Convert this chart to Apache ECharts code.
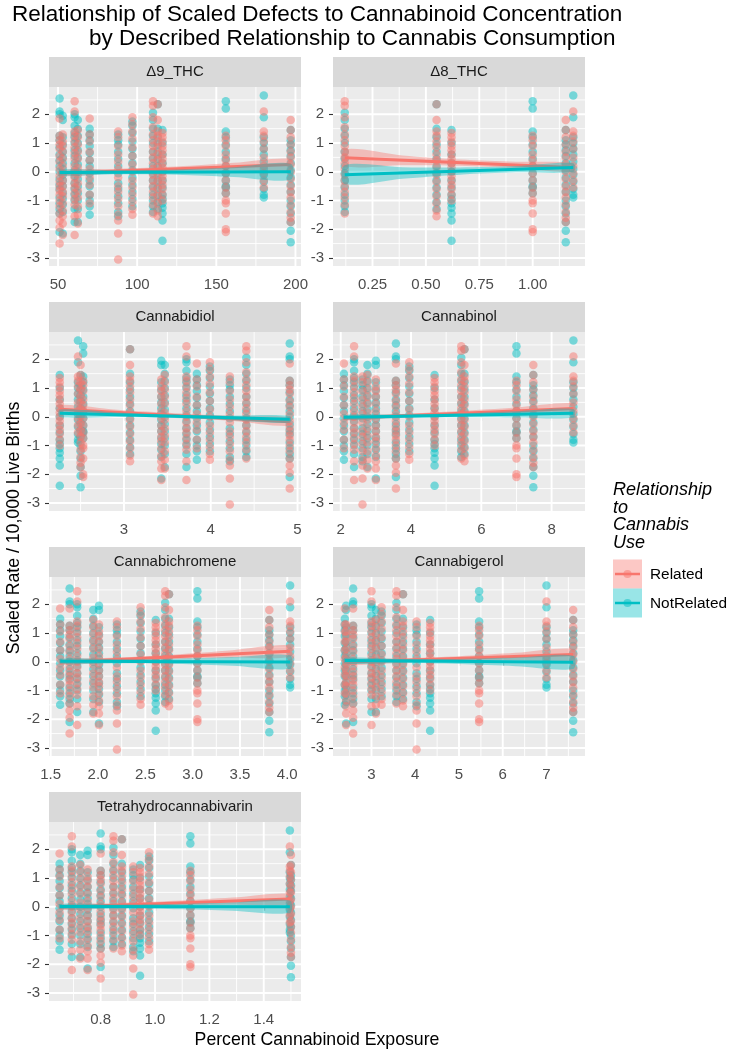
<!DOCTYPE html>
<html>
<head>
<meta charset="utf-8">
<script src="https://cdn.jsdelivr.net/npm/echarts@6/dist/echarts.min.js"></script>
<style>
  html, body { margin: 0; padding: 0; background: #fff; }
  #chart { width: 731px; height: 1053px; }
</style>
</head>
<body>
<div id="chart"></div>
<script>
// facet panels, in reading order
const panels = ['Δ9_THC', 'Δ8_THC', 'Cannabidiol', 'Cannabinol', 'Cannabichromene', 'Cannabigerol', 'Tetrahydrocannabivarin'];

// each column of points is one set of scaled defect rates, the same set in every panel
// (group order: a1, a2, b, m, c, d, e, f, g, h, i, j, k)
const relatedY = [
  [1.85, 1.25, 1.1, 0.95, 0.8, 0.55, 0.35, 0.1, -0.15, -0.35, -0.5, -0.65, -0.8, -1.0, -1.2, -1.45, -1.7, -1.95, -2.5],
  [1.3, 1.05, 0.9, 0.7, 0.45, 0.2, -0.05, -0.3, -0.5, -0.7, -0.85, -1.1, -1.35, -1.55, -1.8, -2.2],
  [2.45, 2.1, 1.4, 1.25, 1.05, 0.85, 0.65, 0.45, 0.2, 0.0, -0.2, -0.4, -0.55, -0.75, -0.95, -1.15, -1.55, -2.2],
  [1.45, 1.2, 0.95, 0.7, 0.45, 0.15, -0.1, -0.4, -0.65, -0.9, -1.2, -1.5, -1.8],
  [1.85, 1.3, 1.05, 0.7, 0.4, 0.1, -0.2, -0.45, -0.8, -1.1],
  [1.4, 1.2, 0.9, 0.6, 0.35, 0.1, -0.2, -0.5, -0.7, -0.95, -1.2, -1.5, -1.7, -2.15, -3.05],
  [1.9, 1.65, 1.4, 1.15, 0.85, 0.55, 0.25, 0.0, -0.3, -0.55, -0.8, -1.05, -1.3, -1.5],
  [2.45, 2.3, 1.9, 1.55, 1.3, 1.1, 0.9, 0.7, 0.5, 0.3, 0.1, -0.1, -0.3, -0.5, -0.7, -0.9, -1.15, -1.45],
  [2.35, 1.8, 1.4, 1.25, 1.05, 0.85, 0.6, 0.4, 0.15, -0.1, -0.35, -0.6, -0.85, -1.1, -1.35, -1.55],
  [1.35, 1.2, 1.05, 0.9, 0.75, 0.6, 0.45, 0.3, 0.15, 0.0, -0.15, -0.3, -0.45, -0.6, -0.8, -1.0],
  [1.25, 1.1, 0.9, 0.6, 0.4, 0.2, -0.05, -0.3, -0.55, -0.75, -1.0, -1.1, -1.45, -2.0, -2.1],
  [2.1, 1.4, 1.25, 1.05, 0.8, 0.5, 0.2, -0.05, -0.3, -0.55],
  [1.8, 1.45, 1.2, 0.95, 0.7, 0.5, 0.25, 0.0, -0.25, -0.5, -0.7, -0.9, -1.15, -1.4, -1.6, -1.75]
];
const notRelatedY = [
  [2.55, 2.1, 2.0, 1.25, 1.1, 0.85, 0.6, 0.4, 0.2, 0.0, -0.25, -0.45, -0.6, -0.9, -1.1, -1.3, -1.45, -2.1],
  [1.95, 1.8, 1.2, 0.95, 0.7, 0.5, 0.3, 0.1, -0.1, -0.3, -0.5, -0.75, -0.95, -1.15, -1.4, -2.15],
  [2.0, 1.9, 1.6, 1.35, 1.2, 1.0, 0.75, 0.55, 0.3, 0.05, -0.15, -0.4, -0.6, -0.8, -1.0, -1.3, -1.75],
  [1.8, 1.5, 1.25, 1.0, 0.75, 0.5, 0.25, 0.0, -0.25, -0.5, -0.75, -1.0, -1.3, -1.75],
  [1.5, 1.3, 1.1, 0.9, 0.65, 0.4, 0.2, -0.05, -0.3, -0.5, -0.8, -1.0, -1.2, -1.5],
  [1.3, 1.1, 0.95, 0.7, 0.45, 0.2, -0.05, -0.4, -0.6, -0.85, -1.1, -1.4, -1.55],
  [1.75, 1.6, 1.35, 1.05, 0.8, 0.55, 0.3, 0.05, -0.2, -0.45, -0.7, -0.95, -1.2],
  [2.05, 1.8, 1.5, 1.25, 1.0, 0.7, 0.45, 0.2, -0.05, -0.3, -0.55, -0.8, -1.0, -1.2, -1.4],
  [2.35, 1.5, 1.2, 0.95, 0.7, 0.45, 0.2, -0.05, -0.3, -0.55, -0.8, -1.05, -1.3],
  [1.45, 1.0, 0.6, 0.3, 0.0, -0.3, -0.55, -0.8, -0.95, -1.1, -1.25, -1.45, -1.7, -2.4],
  [2.45, 2.2, 1.4, 1.2, 0.95, 0.7, 0.45, 0.2, -0.05, -0.3, -0.5, -0.55, -0.75],
  [2.65, 1.9, 1.2, 1.0, 0.8, 0.6, 0.35, 0.1, -0.1, -0.35, -0.6, -0.8, -0.9],
  [1.45, 1.1, 0.95, 0.75, 0.55, 0.3, 0.05, -0.2, -0.45, -0.7, -1.0, -1.2, -1.45, -1.75, -2.05, -2.45]
];

// concentration of each column in each panel (null = no value)
const groupX = [
  [51, 53, 60.5, 62.5, 70, 88, 97, 110, 113, 116, 156, 180, 197],
  [null, null, null, null, null, null, null, 0.12, 0.55, 0.62, 1.0, 1.19, 1.155],
  [4.91, 3.43, 3.72, 3.47, 3.84, 4.22, 3.99, 4.41, 3.07, 2.26, 2.53, 2.47, 2.5],
  [3.57, 3.0, 2.38, 2.76, 2.09, 2.62, 3.95, 5.43, 5.52, 4.67, 7.0, 8.62, 7.48],
  [1.7, 2.01, 1.78, 1.95, 1.6, 2.2, 2.45, 2.71, 2.75, 2.61, 3.05, 4.03, 3.81],
  [2.58, 2.42, 3.0, 3.1, 2.39, 4.03, 3.23, 3.57, 3.72, 4.34, 5.46, 7.0, 7.61],
  [0.8, 0.752, 0.694, 0.725, 0.649, 0.92, 0.978, 0.847, 0.878, 0.945, 1.13, 1.496, 1.5]
];

// linear fits (value at first and last fitX) and their confidence bands
const fitX = [
  [51, 88, 125, 161, 197],
  [0.12, 0.39, 0.66, 0.92, 1.19],
  [2.26, 2.92, 3.59, 4.25, 4.91],
  [2.09, 3.72, 5.36, 6.99, 8.62],
  [1.6, 2.21, 2.82, 3.42, 4.03],
  [2.39, 3.7, 5.0, 6.3, 7.61],
  [0.649, 0.861, 1.073, 1.284, 1.496]
];
const relatedFit = [[-0.05, 0.25], [0.49, 0.15], [0.26, -0.17], [-0.05, 0.29], [-0.02, 0.37], [-0.02, 0.25], [-0.02, 0.27]];
const notRelatedFit = [[-0.03, 0.0], [-0.1, 0.15], [0.12, -0.09], [-0.02, 0.12], [0.02, -0.01], [0.04, -0.02], [0.01, 0.0]];
const relatedLower = [
  [-0.15, -0.04, 0.02, 0.04, 0.05],
  [0.2, 0.23, 0.21, 0.13, 0.0],
  [0.11, 0.06, -0.03, -0.15, -0.32],
  [-0.13, -0.025, 0.04, 0.085, 0.11],
  [-0.11, 0.008, 0.095, 0.143, 0.17],
  [-0.11, -0.022, 0.035, 0.053, 0.05],
  [-0.11, -0.017, 0.045, 0.078, 0.09]
];
const relatedUpper = [
  [0.05, 0.1, 0.18, 0.31, 0.45],
  [0.78, 0.57, 0.43, 0.35, 0.3],
  [0.41, 0.24, 0.12, 0.03, -0.02],
  [0.03, 0.095, 0.2, 0.325, 0.47],
  [0.07, 0.148, 0.255, 0.403, 0.57],
  [0.07, 0.118, 0.195, 0.313, 0.45],
  [0.07, 0.123, 0.205, 0.318, 0.45]
];
const notRelatedLower = [
  [-0.13, -0.09, -0.1, -0.18, -0.28],
  [-0.43, -0.24, -0.1, -0.02, 0.0],
  [-0.01, -0.01, -0.045, -0.12, -0.21],
  [-0.1, -0.045, -0.02, -0.025, -0.03],
  [-0.07, -0.05, -0.075, -0.137, -0.24],
  [-0.06, -0.045, -0.08, -0.155, -0.25],
  [-0.08, -0.063, -0.085, -0.135, -0.22]
];
const notRelatedUpper = [
  [0.07, 0.05, 0.08, 0.16, 0.28],
  [0.23, 0.16, 0.15, 0.2, 0.3],
  [0.25, 0.15, 0.075, 0.04, 0.03],
  [0.06, 0.075, 0.12, 0.195, 0.27],
  [0.11, 0.09, 0.105, 0.163, 0.22],
  [0.14, 0.095, 0.1, 0.145, 0.21],
  [0.1, 0.077, 0.095, 0.145, 0.22]
];

// axes
const yLimits = [-3.28, 2.95];
const yBreaks = [-3, -2, -1, 0, 1, 2];
const yMinor = [-2.5, -1.5, -0.5, 0.5, 1.5, 2.5];
const xLimits = [[44.3, 203.5], [0.065, 1.245], [2.136, 5.04], [1.78, 8.95], [1.482, 4.145], [2.12, 7.88], [0.61, 1.537]];
const xBreaks = [[50, 100, 150, 200], [0.25, 0.5, 0.75, 1.0], [3, 4, 5], [2, 4, 6, 8], [1.5, 2.0, 2.5, 3.0, 3.5, 4.0], [3, 4, 5, 6, 7], [0.8, 1.0, 1.2, 1.4]];
const xBreakLabels = [['50', '100', '150', '200'], ['0.25', '0.50', '0.75', '1.00'], ['3', '4', '5'], ['2', '4', '6', '8'], ['1.5', '2.0', '2.5', '3.0', '3.5', '4.0'], ['3', '4', '5', '6', '7'], ['0.8', '1.0', '1.2', '1.4']];
const xMinor = [[75, 125, 175], [0.125, 0.375, 0.625, 0.875, 1.125], [2.5, 3.5, 4.5], [3, 5, 7], [1.75, 2.25, 2.75, 3.25, 3.75], [2.5, 3.5, 4.5, 5.5, 6.5, 7.5], [0.7, 0.9, 1.1, 1.3, 1.5]];

const RED = '#F8766D';
const TEAL = '#00BFC4';
const FONT = '"Liberation Sans", Arial, sans-serif';

// facet layout
const colLeft = [49, 333];
const rowTop = [87, 332, 577, 822];
const panelW = 252;
const panelH = 179;
const stripH = 30;

const chart = echarts.init(document.getElementById('chart'));

const grids = panels.map((_, p) => ({
  left: colLeft[p % 2],
  top: rowTop[Math.floor(p / 2)],
  width: panelW,
  height: panelH,
  show: true,
  backgroundColor: '#EBEBEB',
  borderWidth: 0
}));

const tickStyle = { show: true, length: 4, lineStyle: { color: '#333333', width: 1.1 } };
const labelStyle = { color: '#4D4D4D', fontSize: 15, fontFamily: FONT };

const xAxes = panels.map((_, p) => ({
  type: 'value',
  gridIndex: p,
  min: xLimits[p][0],
  max: xLimits[p][1],
  splitLine: { show: false },
  axisLine: { show: false },
  axisTick: Object.assign({ customValues: xBreaks[p] }, tickStyle),
  axisLabel: Object.assign({
    customValues: xBreaks[p],
    margin: 11,
    formatter: v => {
      const i = xBreaks[p].findIndex(b => Math.abs(b - v) < 1e-9);
      return i >= 0 ? xBreakLabels[p][i] : '';
    }
  }, labelStyle)
}));

const yAxes = panels.map((_, p) => ({
  type: 'value',
  gridIndex: p,
  min: yLimits[0],
  max: yLimits[1],
  splitLine: { show: false },
  axisLine: { show: false },
  axisTick: Object.assign({ customValues: yBreaks }, tickStyle),
  axisLabel: Object.assign({ customValues: yBreaks, margin: 9, formatter: v => String(v) }, labelStyle)
}));

const series = [];
panels.forEach((_, p) => {
  // white major / minor grid lines
  series.push({
    type: 'custom',
    xAxisIndex: p,
    yAxisIndex: p,
    z: 1,
    silent: true,
    data: [[xLimits[p][0], 0]],
    renderItem: (params, api) => {
      const cs = params.coordSys;
      const children = [];
      const hLine = (v, w) => {
        const py = api.coord([xLimits[p][0], v])[1];
        children.push({ type: 'line', shape: { x1: cs.x, y1: py, x2: cs.x + cs.width, y2: py }, style: { stroke: '#fff', lineWidth: w } });
      };
      const vLine = (v, w) => {
        const px = api.coord([v, 0])[0];
        children.push({ type: 'line', shape: { x1: px, y1: cs.y, x2: px, y2: cs.y + cs.height }, style: { stroke: '#fff', lineWidth: w } });
      };
      yMinor.forEach(v => hLine(v, 0.9));
      xMinor[p].forEach(v => vLine(v, 0.9));
      yBreaks.forEach(v => hLine(v, 1.9));
      xBreaks[p].forEach(v => vLine(v, 1.9));
      return { type: 'group', children };
    }
  });

  // points (Related drawn over NotRelated)
  [[notRelatedY, TEAL, 2], [relatedY, RED, 3]].forEach(([ys, color, z]) => {
    const data = [];
    groupX[p].forEach((x, g) => {
      if (x === null) return;
      ys[g].forEach(y => data.push([x, y]));
    });
    series.push({
      type: 'scatter',
      xAxisIndex: p,
      yAxisIndex: p,
      z,
      silent: true,
      symbolSize: 8.5,
      itemStyle: { color, opacity: 0.5 },
      data
    });
  });

  // confidence ribbon + fitted line, Related first, NotRelated on top
  [
    [relatedLower, relatedUpper, relatedFit, RED, 'rgba(248,118,109,0.4)', 5],
    [notRelatedLower, notRelatedUpper, notRelatedFit, TEAL, 'rgba(0,191,196,0.4)', 7]
  ].forEach(([lower, upper, fit, color, fill, z]) => {
    series.push({
      type: 'custom',
      xAxisIndex: p,
      yAxisIndex: p,
      z,
      silent: true,
      data: [[fitX[p][0], fit[p][0]]],
      renderItem: (params, api) => {
        const pts = [];
        fitX[p].forEach((x, i) => pts.push(api.coord([x, upper[p][i]])));
        for (let i = fitX[p].length - 1; i >= 0; i--) pts.push(api.coord([fitX[p][i], lower[p][i]]));
        return { type: 'polygon', shape: { points: pts, smooth: 0.3 }, style: { fill } };
      }
    });
    series.push({
      type: 'line',
      xAxisIndex: p,
      yAxisIndex: p,
      z: z + 1,
      silent: true,
      symbol: 'none',
      lineStyle: { color, width: 3 },
      data: [[fitX[p][0], fit[p][0]], [fitX[p][fitX[p].length - 1], fit[p][1]]]
    });
  });
});

// strips, titles and legend
const graphic = [];
panels.forEach((name, p) => {
  const x = colLeft[p % 2];
  const y = rowTop[Math.floor(p / 2)] - stripH;
  graphic.push({ type: 'rect', left: x, top: y, shape: { width: panelW, height: stripH }, style: { fill: '#D9D9D9' }, silent: true });
  graphic.push({
    type: 'text', x: x + panelW / 2, y: y + stripH / 2,
    style: { text: name, fill: '#1A1A1A', font: '15px ' + FONT, align: 'center', verticalAlign: 'middle' }
  });
});

graphic.push({ type: 'text', x: 12, y: 15, style: { text: 'Relationship of Scaled Defects to Cannabinoid Concentration', fill: '#000', font: '22.5px ' + FONT, verticalAlign: 'middle' } });
graphic.push({ type: 'text', x: 89, y: 39, style: { text: 'by Described Relationship to Cannabis Consumption', fill: '#000', font: '22.5px ' + FONT, verticalAlign: 'middle' } });
graphic.push({ type: 'text', x: 317, y: 1040, style: { text: 'Percent Cannabinoid Exposure', fill: '#000', font: '17.7px ' + FONT, align: 'center', verticalAlign: 'middle' } });
graphic.push({ type: 'text', x: 14, y: 528, rotation: Math.PI / 2, style: { text: 'Scaled Rate / 10,000 Live Births', fill: '#000', font: '17.7px ' + FONT, align: 'center', verticalAlign: 'middle' } });

['Relationship', 'to', 'Cannabis', 'Use'].forEach((t, i) => {
  graphic.push({ type: 'text', x: 613, y: 490 + i * 17.7, style: { text: t, fill: '#000', font: 'italic 18px ' + FONT, verticalAlign: 'middle' } });
});
[['Related', RED, 'rgba(248,118,109,0.4)'], ['NotRelated', TEAL, 'rgba(0,191,196,0.4)']].forEach(([label, color, fill], i) => {
  const top = 559.5 + i * 29;
  graphic.push({ type: 'rect', left: 613, top, shape: { width: 29, height: 29 }, style: { fill } });
  graphic.push({ type: 'line', shape: { x1: 615, y1: top + 14.5, x2: 640, y2: top + 14.5 }, style: { stroke: color, lineWidth: 2.5 } });
  graphic.push({ type: 'circle', shape: { cx: 627.5, cy: top + 14.5, r: 4 }, style: { fill: color, opacity: 0.5 } });
  graphic.push({ type: 'text', x: 650, y: top + 15, style: { text: label, fill: '#000', font: '15.4px ' + FONT, verticalAlign: 'middle' } });
});

chart.setOption({
  animation: false,
  backgroundColor: '#fff',
  grid: grids,
  xAxis: xAxes,
  yAxis: yAxes,
  series,
  graphic
});
</script>
</body>
</html>
